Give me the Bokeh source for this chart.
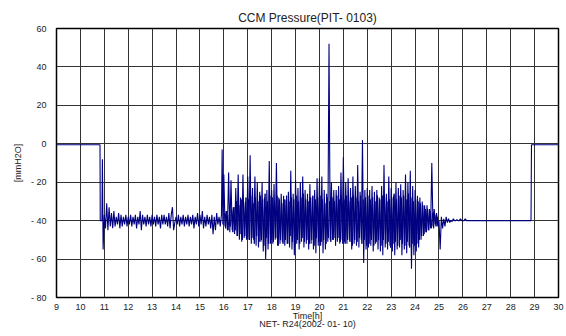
import numpy as np
from bokeh.plotting import figure
from bokeh.models import FixedTicker, Range1d
from bokeh.embed import file_html
from bokeh.resources import INLINE

# ---- data (time in hours, pressure in mmH2O) ----
# start: flat near zero, drop, first spikes
t_start = [9.00, 10.82, 10.83, 10.90, 10.92, 10.95]
v_start = [-0.5, -0.5, -40.0, -40.0, -8.0, -55.0]

# 11.00 .. 15.90 every 0.05 h : quiet noise around -40
t_quiet0, t_quiet_step = 11.00, 0.05
v_quiet = [
    -37, -44, -31, -45, -33, -43, -36, -44, -35, -43,
    -38, -42, -36, -44, -37, -43, -38, -42, -37, -43,
    -38, -42, -37, -43, -38, -42, -37, -44, -38, -42,
    -35, -45, -37, -42, -38, -43, -37, -42, -38, -43,
    -37, -42, -38, -43, -37, -42, -38, -44, -37, -42,
    -37, -42, -38, -43, -36, -44, -37, -33, -45, -41,
    -38, -42, -37, -43, -38, -42, -37, -43, -38, -42,
    -37, -43, -38, -42, -37, -44, -38, -42, -36, -43,
    -37, -42, -35, -44, -38, -43, -37, -42, -38, -44,
    -37, -47, -38, -45, -36, -42, -38, -43, -37,
]

# spike just before 16 h
t_spike = [15.93, 15.96]
v_spike = [-3.0, -42.0]

# 16.00 .. 24.95 every 0.05 h : heavy fluctuation (extremes)
t_heavy0, t_heavy_step = 16.00, 0.05
v_heavy = [
    -16, -43, -35, -45, -15, -46, -19, -45, -33, -47,
    -23, -48, -16, -50, -28, -51, -16, -49, -30, -50,
    -17, -50, -6, -52, -23, -50, -17, -53, -20, -54,
    -25, -51, -20, -56, -28, -60, -24, -55, -9, -52,
    -24, -52, -21, -50, -10, -53, -28, -52, -26, -51,
    -27, -53, -29, -52, -25, -54, -14, -55, -26, -58,
    -19, -52, -23, -55, -20, -51, -17, -54, -24, -52,
    -26, -55, -21, -52, -28, -55, -24, -57, -18, -53,
    -18, -53, -17, -57, -24, -55, -26, -51, 52, -50,
    -20, -50, -24, -49, -24, -51, -22, -52, -15, -50,
    -7, -51, -20, -52, -18, -50, -23, -55, -17, -52,
    -22, -53, -11, -54, -25, -50, 2, -62, -24, -55,
    -23, -54, -24, -53, -22, -56, -25, -52, -24, -55,
    -28, -56, -22, -58, -11, -54, -26, -55, -17, -53,
    -23, -56, -27, -58, -20, -55, -23, -54, -21, -58,
    -24, -55, -16, -57, -20, -53, -14, -65, -22, -58,
    -24, -56, -27, -54, -28, -50, -30, -48, -32, -46,
    -32, -45, -34, -44, -10, -43, -34, -42, -36, -43,
]

# 16.025 .. 24.975 every 0.05 h : in-between samples (core of the band)
t_mid0, t_mid_step = 16.025, 0.05
v_mid = [
    -36, -44, -35, -45, -37, -43, -34, -46, -33, -45,
    -30, -48, -32, -47, -29, -50, -31, -48, -28, -49,
    -29, -50, -27, -49, -31, -52, -28, -48, -30, -51,
    -27, -50, -29, -53, -26, -49, -30, -52, -27, -50,
    -28, -51, -30, -49, -27, -53, -29, -50, -31, -52,
    -29, -50, -27, -52, -30, -48, -28, -51, -29, -53,
    -27, -50, -30, -52, -28, -49, -26, -51, -29, -50,
    -30, -52, -28, -50, -27, -53, -29, -49, -28, -51,
    -27, -51, -29, -50, -31, -52, -28, -49, -30, -51,
    -28, -50, -30, -53, -27, -49, -29, -51, -28, -52,
    -29, -52, -27, -50, -30, -51, -28, -53, -27, -50,
    -28, -51, -30, -49, -27, -52, -29, -50, -28, -53,
    -27, -52, -29, -50, -28, -53, -30, -51, -27, -50,
    -29, -53, -27, -50, -28, -52, -30, -51, -29, -54,
    -28, -52, -26, -51, -29, -53, -27, -50, -28, -52,
    -27, -53, -29, -51, -26, -54, -28, -52, -30, -53,
    -29, -52, -30, -50, -31, -48, -32, -47, -34, -46,
    -34, -45, -35, -44, -36, -44, -37, -43, -38, -42,
]

# 25.00 .. 26.20 every 0.05 h : settling
t_settle0, t_settle_step = 25.00, 0.05
v_settle = [
    -40, -55, -38, -44, -39, -43, -38, -41, -39, -41,
    -40, -40.5, -39, -40, -40, -39.5, -40, -40, -39, -40,
    -40, -40, -39, -40, -40,
]

# end: flat -40, jump back to zero
t_end = [28.85, 28.87, 30.00]
v_end = [-40.0, -0.5, -0.5]

x_ticks = list(range(9, 31))
y_ticks = [-80, -60, -40, -20, 0, 20, 40, 60]
y_tick_labels = {-80: "- 80", -60: "- 60", -40: "- 40", -20: "- 20",
                 0: "0", 20: "20", 40: "40", 60: "60"}

title_text = "CCM Pressure(PIT- 0103)"
x_label = "Time[h]"
y_label = "[mmH2O]"
footer_text = "NET- R24(2002- 01- 10)"

# ---- assemble the series ----
t_quiet = [t_quiet0 + i * t_quiet_step for i in range(len(v_quiet))]
t_heavy = [t_heavy0 + i * t_heavy_step for i in range(len(v_heavy))]
t_mid = [t_mid0 + i * t_mid_step for i in range(len(v_mid))]
t_settle = [t_settle0 + i * t_settle_step for i in range(len(v_settle))]
t_all = t_start + t_quiet + t_spike + t_heavy + t_settle + t_end
v_all = v_start + v_quiet + v_spike + v_heavy + v_settle + v_end

FONT = "Liberation Sans"
TXT = "#222222"
LINE = "#000080"

p = figure(width=566, height=336, output_backend="svg", toolbar_location=None,
           x_range=Range1d(9, 30), y_range=Range1d(-80, 60),
           min_border_left=56, min_border_right=8, min_border_top=28,
           min_border_bottom=39)

p.title.text = title_text
p.title.align = "center"
p.title.text_font = FONT
p.title.text_font_size = "12px"
p.title.text_font_style = "normal"
p.title.text_color = TXT
p.title.standoff = 8

p.line(t_mid, v_mid, line_color=LINE, line_width=1.0)
p.line(t_all, v_all, line_color=LINE, line_width=1.1)

p.xaxis.ticker = FixedTicker(ticks=x_ticks)
p.yaxis.ticker = FixedTicker(ticks=y_ticks)
p.yaxis.major_label_overrides = y_tick_labels
for ax in (p.xaxis[0], p.yaxis[0]):
    ax.major_tick_in = 0
    ax.major_tick_out = 0
    ax.minor_tick_in = 0
    ax.minor_tick_out = 0
    ax.axis_line_color = None
    ax.major_label_text_font = FONT
    ax.major_label_text_font_size = "9px"
    ax.major_label_text_color = TXT
    ax.axis_label_text_font = FONT
    ax.axis_label_text_font_size = "9px"
    ax.axis_label_text_font_style = "normal"
    ax.axis_label_text_color = TXT

# x axis title with the footer line underneath
p.xaxis.axis_label = x_label + "\n" + footer_text
p.xaxis.axis_label_text_line_height = 0.8
p.xaxis.major_label_standoff = 6
p.xaxis.axis_label_standoff = -2

p.yaxis.axis_label = y_label
p.yaxis.major_label_standoff = 10
p.yaxis.axis_label_standoff = 5

p.xgrid.grid_line_color = "#333333"
p.ygrid.grid_line_color = "#333333"
p.xgrid.grid_line_width = 1
p.ygrid.grid_line_width = 1
p.outline_line_color = "black"
p.outline_line_width = 1.5
p.background_fill_color = "white"
p.border_fill_color = "white"

open("out.html", "w").write(file_html(p, INLINE))
